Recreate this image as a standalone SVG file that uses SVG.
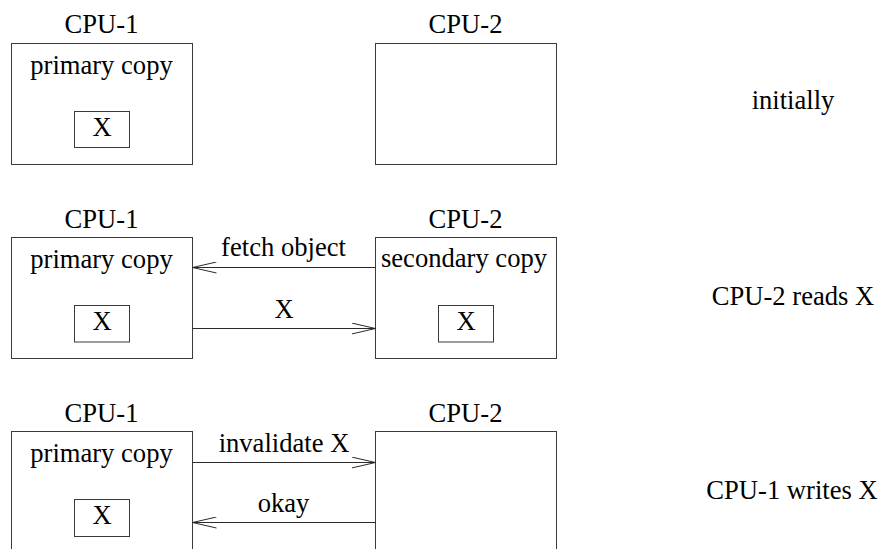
<svg xmlns="http://www.w3.org/2000/svg" width="883" height="549" viewBox="0 0 883 549" font-family="Liberation Serif, Times New Roman, DejaVu Serif, serif">
  <style>
    text { font-family: 'Liberation Serif', 'Times New Roman', 'DejaVu Serif', serif; font-size: 26.6px; fill: #000; text-anchor: middle; }
    .box { fill: none; stroke: #3a3a3a; stroke-width: 1; }
    .msg { fill: none; stroke: #2a2a2a; stroke-width: 1; marker-end: url(#open); }
  </style>
  <defs>
    <marker id="open" markerUnits="userSpaceOnUse" viewBox="0 0 25 12" refX="24" refY="6" markerWidth="25" markerHeight="12" orient="auto">
      <path d="M0,0.5 L24,6 L0,11.5" fill="none" stroke="#2a2a2a" stroke-width="1"/>
    </marker>
  </defs>
  <rect width="883" height="549" fill="#fff"/>

  <!-- stage 1: initially -->
  <g id="s1-cpu1">
    <text x="101.5" y="33">CPU-1</text>
    <rect class="box" x="11.5" y="43.5" width="181" height="121"/>
    <text x="101.5" y="73.5">primary copy</text>
    <rect class="box" x="74.5" y="111.5" width="55" height="36"/>
    <text x="102" y="135.5">X</text>
  </g>
  <g id="s1-cpu2">
    <text x="465.5" y="33">CPU-2</text>
    <rect class="box" x="375.5" y="43.5" width="181" height="121"/>
  </g>
  <g id="s1-caption">
    <text x="793" y="109">initially</text>
  </g>

  <!-- stage 2: CPU-2 reads X -->
  <g id="s2-cpu1">
    <text x="101.5" y="227.5">CPU-1</text>
    <rect class="box" x="11.5" y="237.5" width="181" height="121"/>
    <text x="101.5" y="268">primary copy</text>
    <rect class="box" x="74.5" y="305.5" width="55" height="36.5"/>
    <text x="102" y="330">X</text>
  </g>
  <g id="s2-cpu2">
    <text x="465.5" y="227.5">CPU-2</text>
    <rect class="box" x="375.5" y="237.5" width="181" height="121"/>
    <text x="464" y="267">secondary copy</text>
    <rect class="box" x="438.5" y="305.5" width="55" height="36.5"/>
    <text x="466" y="330">X</text>
  </g>
  <g id="s2-caption">
    <text x="793" y="304.5">CPU-2 reads X</text>
  </g>

  <!-- stage 3: CPU-1 writes X -->
  <g id="s3-cpu1">
    <text x="101.5" y="422">CPU-1</text>
    <rect class="box" x="11.5" y="431.5" width="181" height="130"/>
    <text x="101.5" y="462">primary copy</text>
    <rect class="box" x="74.5" y="499.5" width="55" height="37"/>
    <text x="102" y="524">X</text>
  </g>
  <g id="s3-cpu2">
    <text x="465.5" y="422">CPU-2</text>
    <rect class="box" x="375.5" y="431.5" width="181" height="130"/>
  </g>
  <g id="s3-caption">
    <text x="792" y="498.5">CPU-1 writes X</text>
  </g>

  <!-- messages between the processors -->
  <g id="connectors">
    <path class="msg" d="M375.5,267.5 H192.5"/>
    <text x="283.5" y="256">fetch object</text>
    <path class="msg" d="M192.5,328.5 H375.5"/>
    <text x="284" y="317.5">X</text>
    <path class="msg" d="M192.5,462.5 H375.5"/>
    <text x="284" y="452">invalidate X</text>
    <path class="msg" d="M375.5,522.5 H192.5"/>
    <text x="283.5" y="511.5">okay</text>
  </g>
</svg>
